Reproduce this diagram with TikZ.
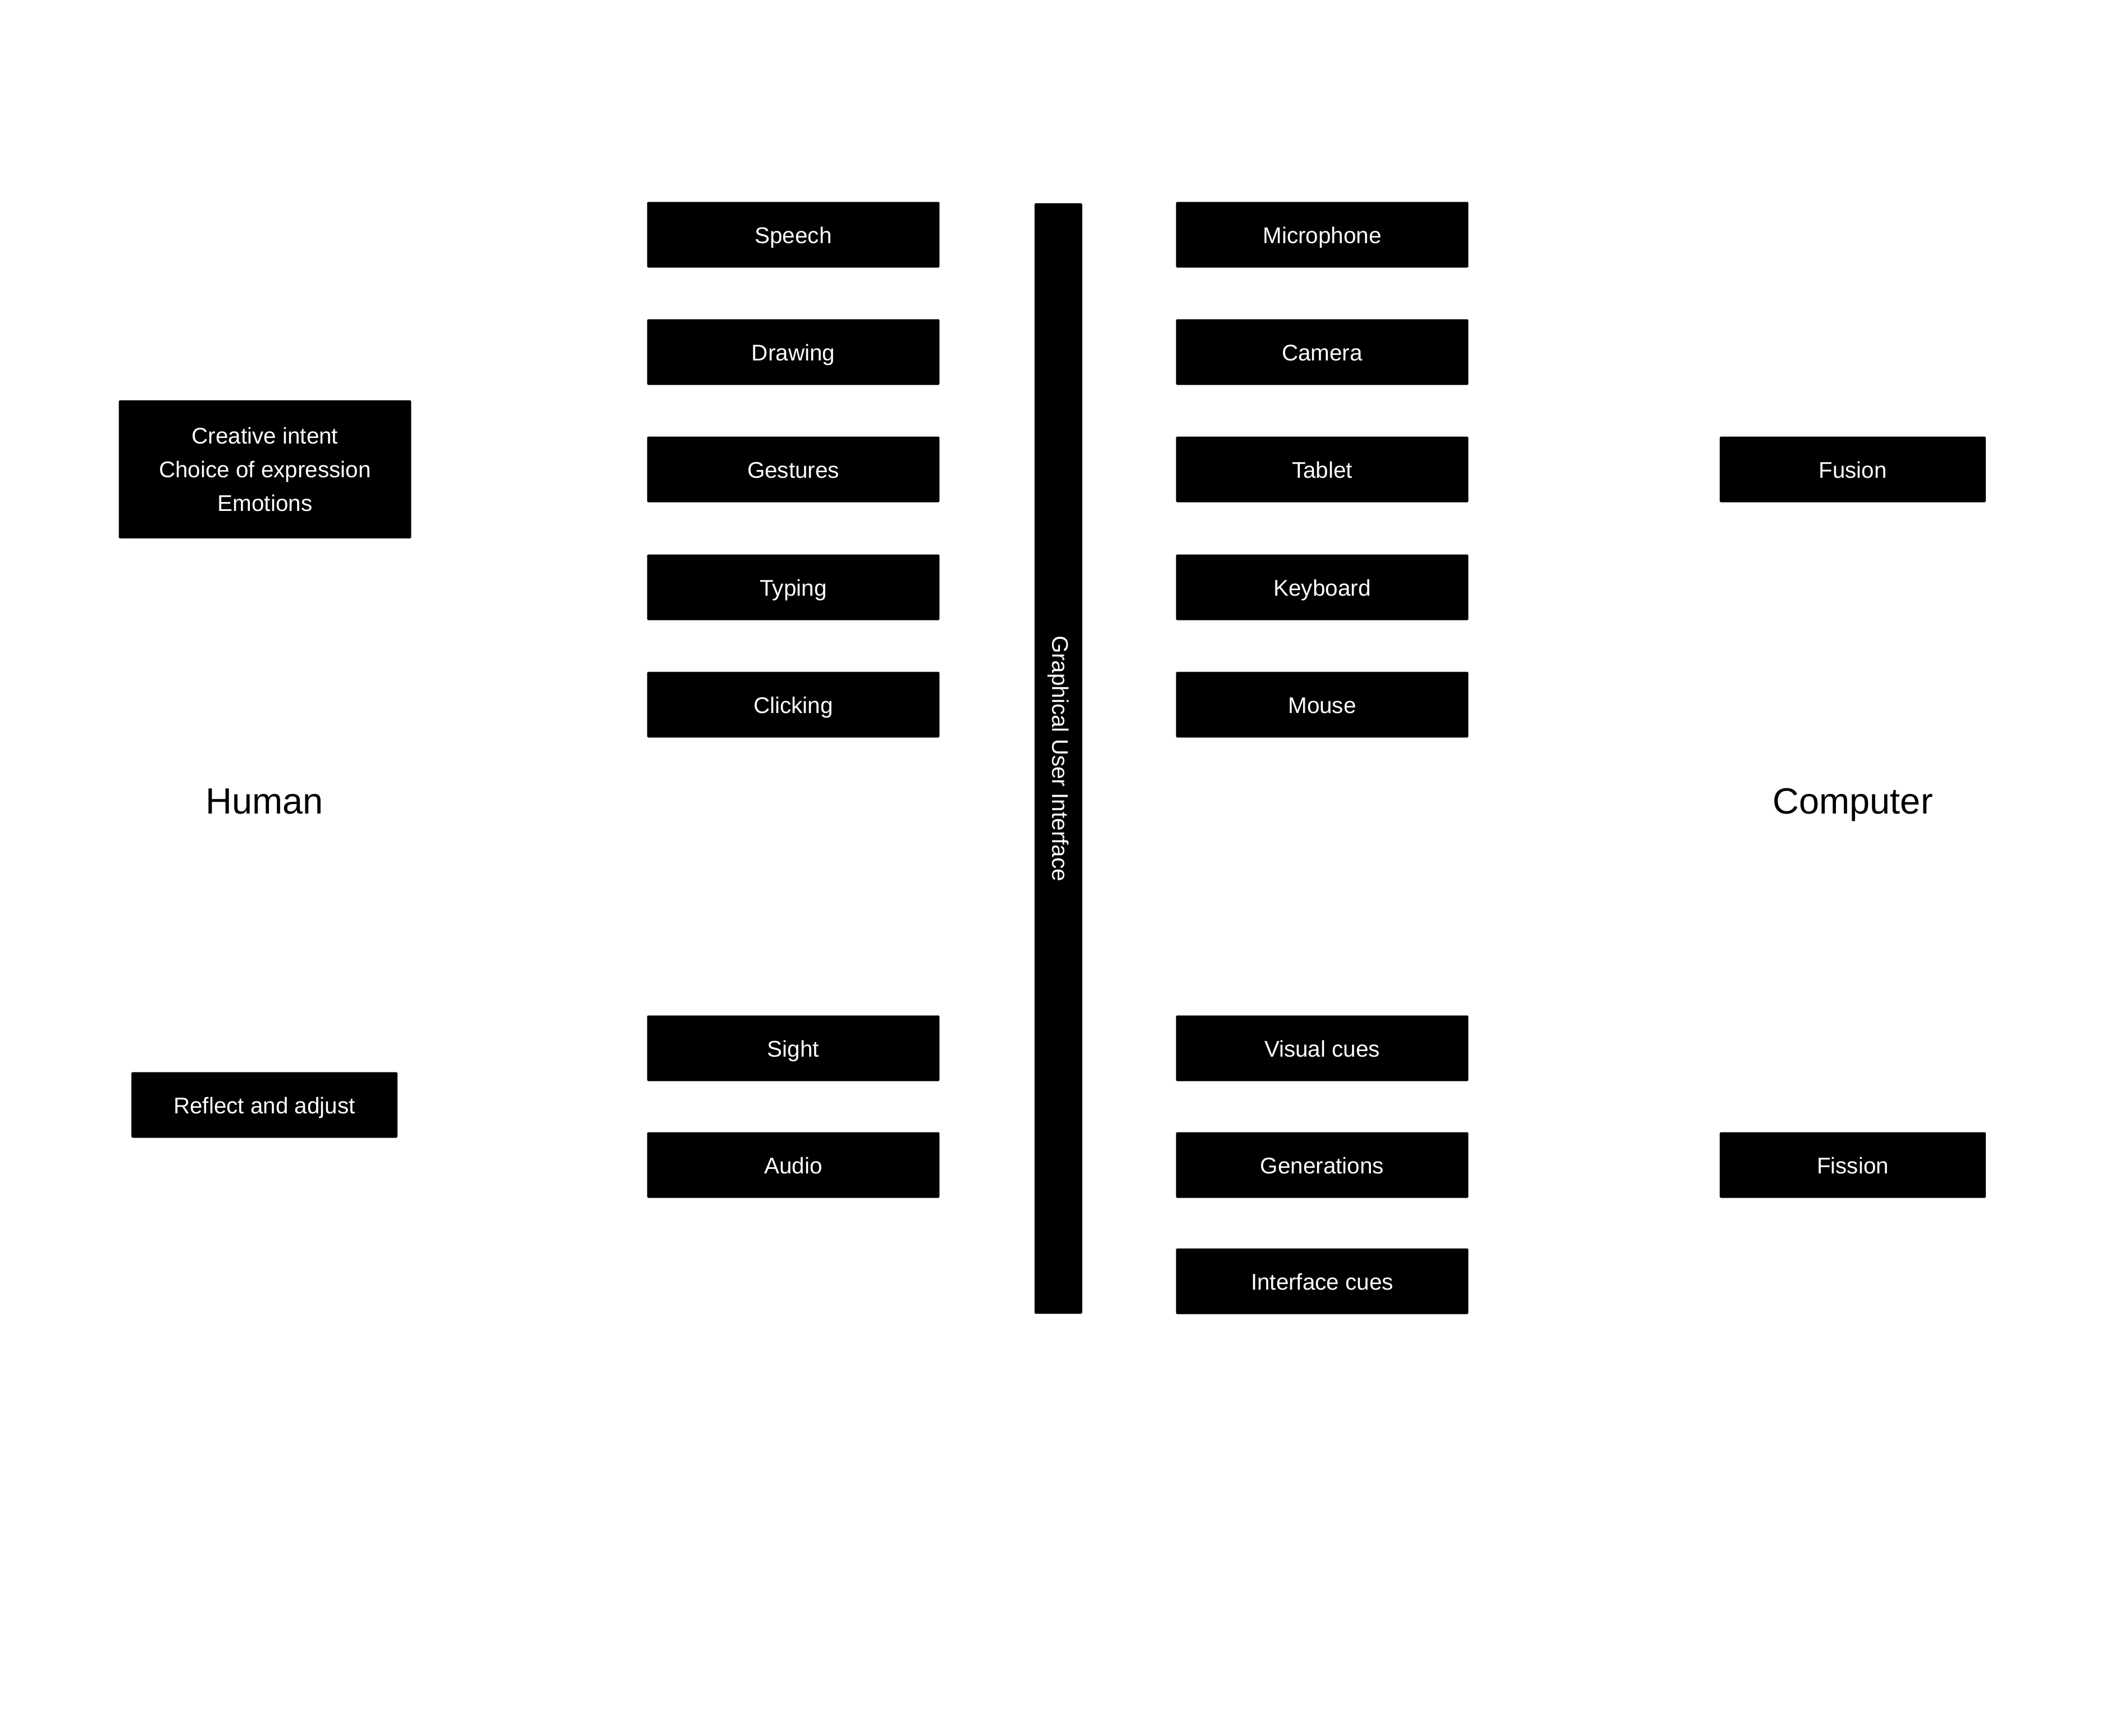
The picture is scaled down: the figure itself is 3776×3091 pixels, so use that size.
\documentclass[tikz,border=0pt]{standalone}
\usepackage{fontspec}
\setmainfont{Liberation Sans}
\tikzset{
  plainbox/.style={fill=black,text=white,rounded corners=1pt,inner sep=0pt,
    minimum width=10.42cm,minimum height=2.34cm,align=center,
    font=\fontsize{23}{34}\selectfont},
  box/.style={plainbox,text height=20pt,text depth=2.8pt},
  smallbox/.style={box,minimum width=9.48cm},
  side/.style={font=\fontsize{37}{44}\selectfont,text height=30pt,text depth=3.4pt}
}
\begin{document}
\begin{tikzpicture}[x=0.02cm,y=-0.02cm]
  \useasboundingbox (0,0) rectangle (3776,3091);
  % human side
  \node[plainbox,minimum height=4.92cm] (intent) at (472,836) {Creative intent\\Choice of expression\\Emotions};
  \node[side] (human) at (471,1426) {Human};
  \node[smallbox] (reflect) at (471,1968) {Reflect and adjust};
  % human modalities
  \node[box] (speech) at (1413,418) {Speech};
  \node[box] (drawing) at (1413,627) {Drawing};
  \node[box] (gestures) at (1413,836) {Gestures};
  \node[box] (typing) at (1413,1046) {Typing};
  \node[box] (clicking) at (1413,1255) {Clicking};
  \node[box] (sight) at (1413,1867) {Sight};
  \node[box] (audio) at (1413,2075) {Audio};
  % interface bar
  \node[plainbox,minimum width=1.7cm,minimum height=39.56cm] (gui) at (1885,1351) {};
  \node[text=white,rotate=-90,font=\fontsize{23}{34}\selectfont] (guitext) at (gui.center) {Graphical User Interface};
  % devices
  \node[box] (mic) at (2355,418) {Microphone};
  \node[box] (camera) at (2355,627) {Camera};
  \node[box] (tablet) at (2355,836) {Tablet};
  \node[box] (keyboard) at (2355,1046) {Keyboard};
  \node[box] (mouse) at (2355,1255) {Mouse};
  \node[box] (visual) at (2355,1867) {Visual cues};
  \node[box] (gen) at (2355,2075) {Generations};
  \node[box] (icues) at (2355,2282) {Interface cues};
  % computer side
  \node[smallbox] (fusion) at (3300,836) {Fusion};
  \node[side] (computer) at (3300,1426) {Computer};
  \node[smallbox] (fission) at (3300,2075) {Fission};
\end{tikzpicture}
\end{document}
